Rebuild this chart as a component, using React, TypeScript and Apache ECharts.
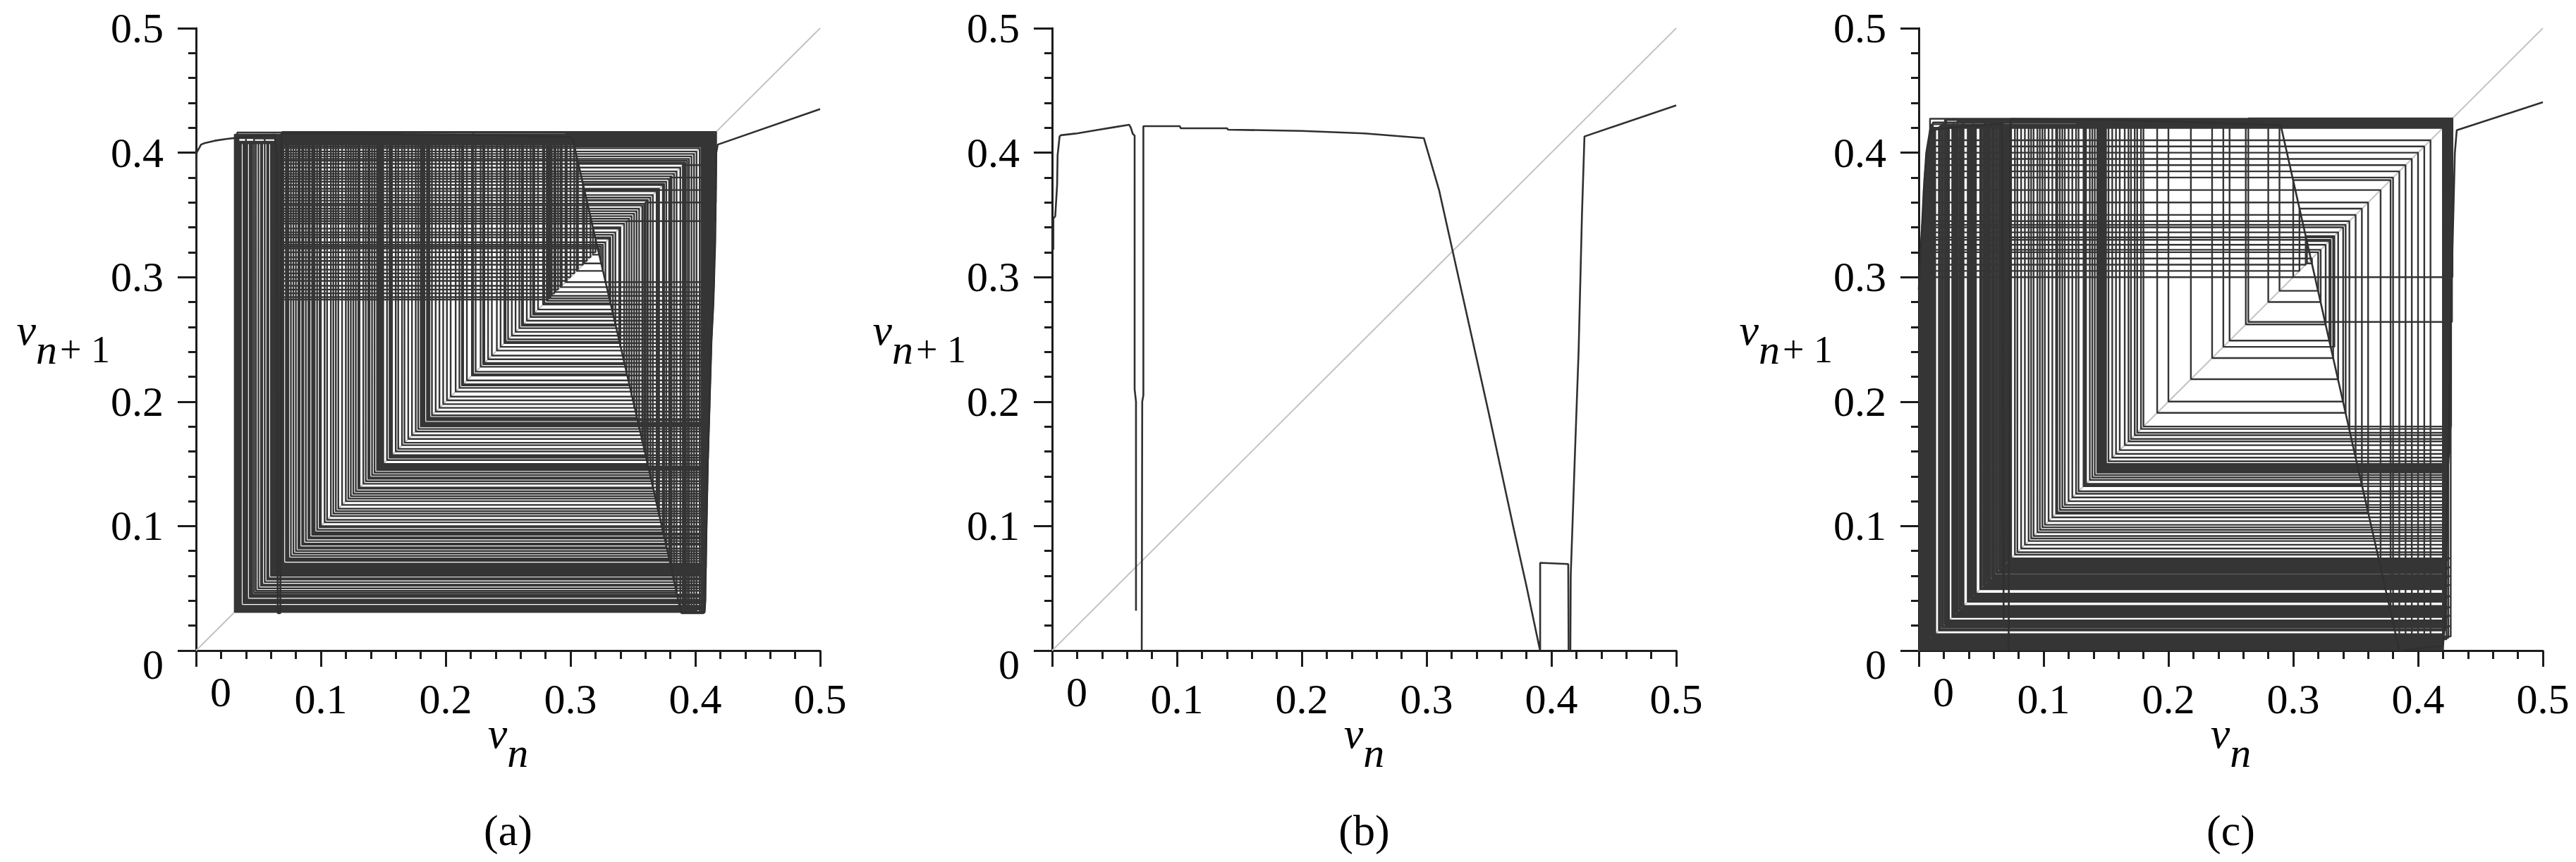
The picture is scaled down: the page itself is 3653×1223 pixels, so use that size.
import React, { useEffect, useRef } from 'react';
import * as echarts from 'echarts';

// ---------- data ----------
const panelLabels = ['(a)', '(b)', '(c)'];
const axisName = { x: '{v|v}{n|n}', y: '{v|v}{n|n}{p|+ 1}' };
const diagonal = [[0, 0], [0.5, 0.5]];

// map curve of panel (a)
const mapA: number[][][] = [[
  [0, 0.377], [0.0005, 0.4], [0.004, 0.4065], [0.007, 0.4077], [0.015, 0.4096], [0.024, 0.411],
  [0.033, 0.412], [0.05, 0.4135], [0.063, 0.4145], [0.0645, 0.4], [0.0655, 0.03], [0.0675, 0.03],
  [0.0685, 0.4155], [0.1, 0.4155], [0.15, 0.415], [0.2, 0.4145], [0.25, 0.4138], [0.3, 0.4125],
  [0.302, 0.41], [0.32, 0.331], [0.34, 0.245], [0.36, 0.158], [0.38, 0.07], [0.3875, 0.035],
  [0.389, 0.03], [0.4065, 0.03], [0.4075, 0.031], [0.408, 0.04], [0.409, 0.1], [0.41, 0.15],
  [0.4115, 0.2], [0.413, 0.25], [0.4145, 0.28], [0.416, 0.33], [0.4168, 0.4], [0.418, 0.4065], [0.5, 0.435],
]];

// orbit v0, v1, v2, ... of panel (a)
const orbitA: number[] = [
  0.415, 0.296, 0.4149, 0.292, 0.4084, 0.0652, 0.4106, 0.17,
  0.4147, 0.288, 0.4146, 0.285, 0.4084, 0.0655, 0.4095, 0.122,
  0.4145, 0.281, 0.4144, 0.278, 0.4084, 0.0648, 0.4085, 0.067,
  0.4142, 0.274, 0.4141, 0.271, 0.4084, 0.0658, 0.408, 0.04,
  0.4139, 0.268, 0.4138, 0.265, 0.4084, 0.065, 0.4065, 0.031,
  0.4136, 0.262, 0.4135, 0.259, 0.4084, 0.0656, 0.405, 0.031,
  0.4133, 0.256, 0.4132, 0.253, 0.4084, 0.0653, 0.4035, 0.031,
  0.413, 0.25, 0.4129, 0.247, 0.4084, 0.0649, 0.401, 0.032,
  0.4128, 0.244, 0.4127, 0.241, 0.4084, 0.0657, 0.399, 0.031,
  0.4126, 0.237, 0.4125, 0.234, 0.4084, 0.0651, 0.397, 0.033,
  0.4124, 0.231, 0.4123, 0.228, 0.4084, 0.0654, 0.395, 0.031,
  0.4122, 0.224, 0.4121, 0.221, 0.4084, 0.0659, 0.3935, 0.032,
  0.412, 0.217, 0.4119, 0.214, 0.4084, 0.0647, 0.391, 0.031,
  0.4118, 0.211, 0.4117, 0.208, 0.4084, 0.0655, 0.388, 0.034,
  0.4116, 0.204, 0.4115, 0.201, 0.4084, 0.065, 0.385, 0.0465,
  0.4114, 0.198, 0.4114, 0.195, 0.4084, 0.0656, 0.383, 0.055,
  0.4113, 0.192, 0.4112, 0.189, 0.4084, 0.0652, 0.381, 0.064,
  0.4111, 0.186, 0.4111, 0.185, 0.4084, 0.0657, 0.379, 0.073,
  0.411, 0.183, 0.411, 0.182, 0.4084, 0.0653, 0.3767, 0.083,
  0.4109, 0.181, 0.4109, 0.18, 0.4084, 0.0649, 0.374, 0.095,
  0.4108, 0.178, 0.4108, 0.176, 0.4084, 0.0654, 0.371, 0.108,
  0.4107, 0.173, 0.4106, 0.17, 0.4084, 0.0651, 0.369, 0.117,
  0.4105, 0.167, 0.4105, 0.165, 0.4084, 0.0658, 0.366, 0.13,
  0.4104, 0.162, 0.4103, 0.16, 0.4084, 0.065, 0.364, 0.138,
  0.4102, 0.157, 0.4102, 0.155, 0.4084, 0.0655, 0.3615, 0.149,
  0.4101, 0.153, 0.41, 0.15, 0.4084, 0.0652, 0.359, 0.16,
  0.41, 0.148, 0.4099, 0.147, 0.4084, 0.0656, 0.3575, 0.167,
  0.4099, 0.146, 0.4099, 0.145, 0.4084, 0.0653, 0.355, 0.178,
  0.4099, 0.143, 0.4098, 0.141, 0.4084, 0.0657, 0.353, 0.187,
  0.4098, 0.139, 0.4097, 0.136, 0.4084, 0.0649, 0.351, 0.195,
  0.4097, 0.134, 0.4096, 0.131, 0.4084, 0.0654, 0.349, 0.204,
  0.4096, 0.128, 0.4095, 0.126, 0.4084, 0.0651, 0.347, 0.213,
  0.4095, 0.124, 0.4094, 0.122, 0.4084, 0.0658, 0.345, 0.222,
  0.4094, 0.12, 0.4093, 0.117, 0.4084, 0.065, 0.343, 0.23,
  0.4093, 0.114, 0.4092, 0.112, 0.4084, 0.0655, 0.339, 0.248,
  0.4092, 0.11, 0.4092, 0.108, 0.4084, 0.0652, 0.336, 0.261,
  0.4091, 0.105, 0.4091, 0.103, 0.4084, 0.0656, 0.334, 0.27,
  0.409, 0.1, 0.409, 0.099, 0.4084, 0.0653, 0.332, 0.279,
  0.4089, 0.097, 0.4089, 0.094, 0.4084, 0.0657, 0.328, 0.296,
  0.4089, 0.093, 0.4088, 0.091, 0.4084, 0.0649, 0.326, 0.305, 0.397, 0.033,
  0.4088, 0.09, 0.4088, 0.088, 0.4084, 0.0654, 0.3245, 0.311, 0.37, 0.112,
  0.4087, 0.086, 0.4087, 0.085, 0.4084, 0.0651, 0.323, 0.318, 0.34, 0.244,
  0.4087, 0.082, 0.4086, 0.08, 0.4084, 0.0658, 0.32, 0.331, 0.283,
  0.4086, 0.078, 0.4086, 0.076, 0.4084, 0.065, 0.316, 0.349, 0.204,
  0.4085, 0.074, 0.4085, 0.072, 0.4084, 0.0655, 0.313, 0.362, 0.147,
  0.4085, 0.07, 0.4084, 0.069, 0.4084, 0.0652, 0.31, 0.375, 0.09,
  0.4084, 0.068, 0.4084, 0.067, 0.4084, 0.0656, 0.306, 0.392, 0.032,
  0.4084, 0.066, 0.4084, 0.064, 0.4084, 0.0653, 0.303, 0.406, 0.031,
  0.4083, 0.063, 0.4083, 0.062, 0.4084, 0.0657, 0.3,
  0.4083, 0.061, 0.4083, 0.06, 0.4084, 0.0649, 0.297,
  0.4082, 0.058, 0.4082, 0.057, 0.4084, 0.0654, 0.293,
  0.4082, 0.055, 0.4081, 0.053, 0.4084, 0.0651, 0.29,
  0.4081, 0.052, 0.4081, 0.05, 0.4084, 0.0658, 0.287,
  0.408, 0.048, 0.408, 0.045, 0.4084, 0.065, 0.284,
  0.408, 0.044, 0.408, 0.043, 0.4084, 0.0655, 0.282,
  0.408, 0.041, 0.4079, 0.039, 0.4078, 0.038, 0.4077, 0.036, 0.4077, 0.035,
  0.4076, 0.034, 0.4076, 0.033,
  0.4162, 0.345, 0.222, 0.4164, 0.36, 0.156, 0.4165, 0.37, 0.112,
  0.4166, 0.38, 0.069, 0.4167, 0.39, 0.031, 0.4145,
];

// map curve of panel (b)
const mapB: number[][][] = [
  [
    [0.001, 0.322], [0.001, 0.347], [0.0025, 0.349], [0.004, 0.374], [0.0044, 0.398], [0.006, 0.413],
    [0.0069, 0.414], [0.02, 0.4155], [0.035, 0.418], [0.05, 0.4205], [0.0618, 0.4224], [0.0631, 0.42],
    [0.0646, 0.4152], [0.0661, 0.4137], [0.0661, 0.21], [0.0672, 0.2], [0.0672, 0.032],
  ],
  [
    [0.0718, 0], [0.0722, 0.2], [0.0731, 0.205], [0.0731, 0.4213], [0.1023, 0.4213], [0.103, 0.4196],
    [0.14, 0.4196], [0.141, 0.4185], [0.2, 0.4175], [0.25, 0.4155], [0.2978, 0.4117], [0.31, 0.37],
    [0.33, 0.28], [0.35, 0.19], [0.37, 0.097], [0.38, 0.052], [0.3905, 0.002], [0.391, 0],
    [0.391, 0.0705], [0.4135, 0.0695], [0.4138, 0],
  ],
  [
    [0.4152, 0], [0.4155, 0.06], [0.4188, 0.156], [0.4218, 0.24], [0.4245, 0.35], [0.4265, 0.413], [0.5, 0.438],
  ],
];

// map curve of panel (c)
const mapC: number[][][] = [
  [
    [0, 0.29], [0.002, 0.33], [0.004, 0.37], [0.006, 0.4], [0.009, 0.418], [0.03, 0.4205],
    [0.066, 0.4235], [0.0668, 0.41], [0.068, 0.025],
  ],
  [
    [0.072, 0], [0.0735, 0.427], [0.15, 0.4265], [0.22, 0.4245], [0.29, 0.422], [0.31, 0.333],
    [0.33, 0.244], [0.35, 0.155], [0.37, 0.067], [0.385, 0], [0.42, 0.004], [0.4215, 0.02],
    [0.423, 0.09], [0.4245, 0.17], [0.427, 0.3], [0.4295, 0.4], [0.431, 0.418], [0.5, 0.4405],
  ],
];

// orbit v0, v1, v2, ... of panel (c)
const orbitC: number[] = [
  0.4265, 0.18, 0.4263, 0.178, 0.4261, 0.175, 0.4259, 0.173,
  0.4201, 0.0005, 0.3, 0.378, 0.031,
  0.4257, 0.17, 0.4255, 0.168, 0.4253, 0.165, 0.4251, 0.161,
  0.4201, 0.0008, 0.305, 0.355, 0.133,
  0.4249, 0.158, 0.4247, 0.155, 0.4245, 0.152, 0.4244, 0.15,
  0.4201, 0.001, 0.31, 0.333, 0.244,
  0.4243, 0.149, 0.4242, 0.148, 0.4241, 0.147, 0.424, 0.146,
  0.4201, 0.0013, 0.315, 0.311, 0.329, 0.249,
  0.4239, 0.145, 0.4238, 0.144, 0.4237, 0.143, 0.4236, 0.141,
  0.4201, 0.0015, 0.32, 0.289,
  0.4235, 0.139, 0.4234, 0.137, 0.4233, 0.134, 0.4232, 0.132,
  0.4201, 0.0016, 0.322, 0.28,
  0.4231, 0.128, 0.423, 0.126, 0.4229, 0.123, 0.4228, 0.12,
  0.4201, 0.0018, 0.326, 0.262,
  0.4227, 0.117, 0.4226, 0.115, 0.4225, 0.113, 0.4224, 0.11,
  0.4201, 0.002, 0.33, 0.244,
  0.4223, 0.107, 0.4222, 0.104, 0.4221, 0.101, 0.422, 0.099,
  0.4201, 0.0021, 0.332, 0.235,
  0.4219, 0.097, 0.4218, 0.095, 0.4217, 0.092, 0.4216, 0.09,
  0.4201, 0.0023, 0.336, 0.218,
  0.4215, 0.088, 0.4214, 0.085, 0.4213, 0.082, 0.4212, 0.079, 0.4211, 0.077,
  0.4201, 0.0025, 0.34, 0.2,
  0.4262, 0.074, 0.4243, 0.0728, 0.4228, 0.0716, 0.4215, 0.0703,
  0.4201, 0.0027, 0.342, 0.191,
  0.4206, 0.069, 0.4199, 0.0679, 0.4262, 0.0668, 0.4243, 0.0656,
  0.4201, 0.003, 0.35, 0.155,
  0.4228, 0.0645, 0.4215, 0.0631, 0.4206, 0.0622, 0.4199, 0.0608,
  0.4201, 0.0031, 0.345, 0.178,
  0.4262, 0.0597, 0.4243, 0.0586, 0.4228, 0.0572, 0.4215, 0.0563,
  0.4201, 0.0035, 0.36, 0.111,
  0.4206, 0.0551, 0.4199, 0.0538, 0.4262, 0.0526, 0.4243, 0.0517,
  0.4201, 0.004, 0.37, 0.067,
  0.4228, 0.0503, 0.4215, 0.0492, 0.4206, 0.0458, 0.4199, 0.0449,
  0.4201, 0.0045, 0.38, 0.022,
  0.4262, 0.0436, 0.4243, 0.0425, 0.4228, 0.0414, 0.4215, 0.0401,
  0.4201, 0.005, 0.385, 0.002, 0.33, 0.244,
  0.4206, 0.0392, 0.4199, 0.0359, 0.4262, 0.0348, 0.4243, 0.0335,
  0.4201, 0.0055, 0.39, 0.003, 0.34, 0.2,
  0.4228, 0.0326, 0.4215, 0.0312, 0.4206, 0.0303, 0.4199, 0.029,
  0.4201, 0.006, 0.395, 0.004, 0.37, 0.067,
  0.4262, 0.0279, 0.4243, 0.0268, 0.4228, 0.0242, 0.4215, 0.0231,
  0.4201, 0.0065, 0.4, 0.0035, 0.36, 0.111,
  0.4206, 0.0218, 0.4199, 0.0209, 0.4262, 0.0195, 0.4243, 0.0186,
  0.4201, 0.007, 0.405, 0.003, 0.35, 0.155,
  0.4228, 0.0172, 0.4215, 0.0161, 0.4206, 0.0132, 0.4199, 0.0121,
  0.4201, 0.008, 0.41, 0.004, 0.37, 0.067,
  0.4262, 0.0113, 0.4243, 0.0102, 0.4228, 0.009,
  0.4272, 0.264, 0.4276, 0.3, 0.378, 0.031, 0.421,
];

const panelMaps = [mapA, mapB, mapC];
const panelOrbits: (number[] | null)[] = [orbitA, null, orbitC];

// ---------- layout ----------
const W = 3653;
const H = 1223;
const GRID_LEFTS = [278, 1492, 2721];
const GRID_TOP = 40;
const GRID_W = 885;
const GRID_H = 883;
const FONT = 'Liberation Serif';
const AXIS_COLOR = '#1c1c1c';
const LINE_COLOR = '#353535';

function cobweb(orbit: number[]): number[][] {
  const pts: number[][] = [[orbit[0], orbit[0]]];
  for (let i = 0; i < orbit.length - 1; i++) {
    pts.push([orbit[i], orbit[i + 1]]);
    pts.push([orbit[i + 1], orbit[i + 1]]);
  }
  return pts;
}

const labelFmt = (v: number) => (v === 0 ? '{z|0}' : String(Math.round(v * 10) / 10));

const nameRich = {
  v: { fontSize: 62, fontStyle: 'italic', fontFamily: FONT, color: '#000', lineHeight: 60, padding: [0, 0, 28, 0] },
  n: { fontSize: 60, fontStyle: 'italic', fontFamily: FONT, color: '#000', lineHeight: 60, padding: [28, 0, 0, 0] },
  p: { fontSize: 54, fontFamily: FONT, color: '#000', lineHeight: 60, padding: [28, 0, 0, 4] },
};

export default function App() {
  const ref = useRef<HTMLDivElement>(null);
  useEffect(() => {
    if (!ref.current) return;
    const chart = echarts.init(ref.current, undefined, { renderer: 'svg', width: W, height: H });

    const grid = GRID_LEFTS.map((left) => ({
      left, top: GRID_TOP, width: GRID_W, height: GRID_H, containLabel: false, outerBoundsMode: 'none',
    }));

    const xAxis = GRID_LEFTS.map((_, i) => ({
      type: 'value', gridIndex: i, min: 0, max: 0.5, interval: 0.1,
      axisLine: { show: true, onZero: false, lineStyle: { color: AXIS_COLOR, width: 3 } },
      axisTick: { show: true, length: 23, lineStyle: { color: AXIS_COLOR, width: 3 } },
      minorTick: { show: true, splitNumber: 5, length: 12, lineStyle: { color: AXIS_COLOR, width: 3 } },
      splitLine: { show: false },
      axisLabel: {
        margin: 39, fontSize: 60, fontFamily: FONT, color: '#000', showMinLabel: true, showMaxLabel: true,
        formatter: labelFmt,
        rich: { z: { fontSize: 60, fontFamily: FONT, color: '#000', lineHeight: 40, padding: [0, 0, 0, 70] } },
      },
      name: axisName.x, nameLocation: 'middle', nameGap: 101, nameMoveOverlap: false,
      nameTextStyle: { fontFamily: FONT, rich: nameRich },
    }));

    const yAxis = GRID_LEFTS.map((_, i) => ({
      type: 'value', gridIndex: i, min: 0, max: 0.5, interval: 0.1,
      axisLine: { show: true, onZero: false, lineStyle: { color: AXIS_COLOR, width: 3 } },
      axisTick: { show: true, length: 26, lineStyle: { color: AXIS_COLOR, width: 3 } },
      minorTick: { show: true, splitNumber: 5, length: 11, lineStyle: { color: AXIS_COLOR, width: 3 } },
      splitLine: { show: false },
      axisLabel: {
        margin: 46, fontSize: 60, fontFamily: FONT, color: '#000', showMinLabel: true, showMaxLabel: true,
        formatter: labelFmt,
        rich: { z: { fontSize: 60, fontFamily: FONT, color: '#000', lineHeight: 60, padding: [40, 0, 0, 0] } },
      },
      name: axisName.y, nameLocation: 'middle', nameRotate: 0, nameGap: 122, nameMoveOverlap: false,
      nameTextStyle: { fontFamily: FONT, rich: nameRich },
    }));

    const series: any[] = [];
    GRID_LEFTS.forEach((_, i) => {
      series.push({
        type: 'line', xAxisIndex: i, yAxisIndex: i, data: diagonal, symbol: 'none', silent: true, z: 1,
        lineStyle: { color: '#c3c3c3', width: 2 },
      });
      const orbit = panelOrbits[i];
      if (orbit) {
        series.push({
          type: 'line', xAxisIndex: i, yAxisIndex: i, data: cobweb(orbit), symbol: 'none', silent: true, z: 2,
          lineStyle: { color: LINE_COLOR, width: 2.4 },
        });
      }
      panelMaps[i].forEach((seg) => {
        series.push({
          type: 'line', xAxisIndex: i, yAxisIndex: i, data: seg, symbol: 'none', silent: true, z: 3,
          lineStyle: { color: '#303030', width: 2.6 },
        });
      });
    });

    const graphic = panelLabels.map((t, i) => ({
      type: 'text', x: GRID_LEFTS[i] + GRID_W / 2, y: 1178,
      style: { text: t, fontSize: 62, fontFamily: FONT, fill: '#000', textAlign: 'center', textVerticalAlign: 'middle', verticalAlign: 'middle' },
    }));

    chart.setOption({
      animation: false,
      backgroundColor: '#ffffff',
      grid, xAxis, yAxis, series, graphic,
    } as any);
    return () => chart.dispose();
  }, []);
  return <div ref={ref} style={{ position: 'absolute', left: 0, top: 0, width: W, height: H }} />;
}
